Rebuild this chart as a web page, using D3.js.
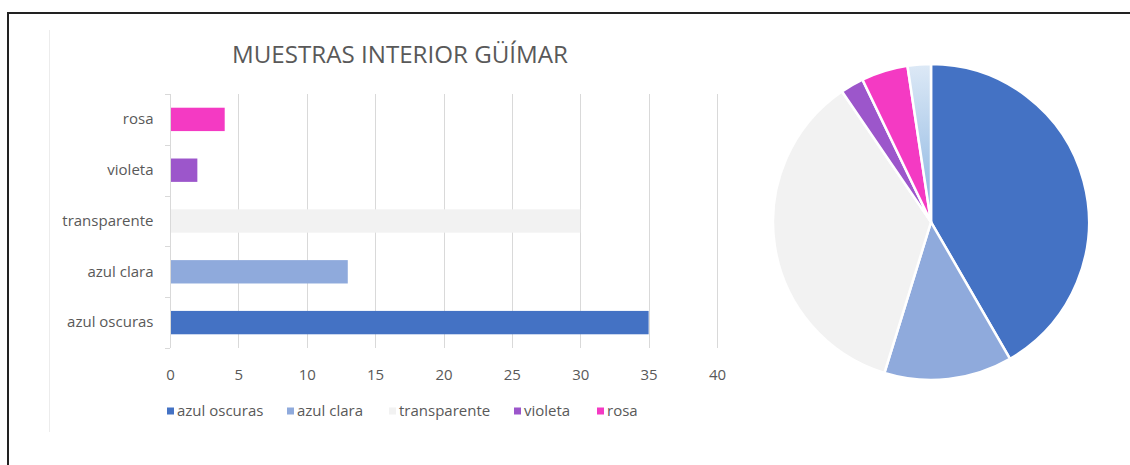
<!DOCTYPE html>
<html>
<head>
<meta charset="utf-8">
<script src="https://cdn.jsdelivr.net/npm/d3@7"></script>
<style>
  body { margin: 0; background: #fff; }
  svg { display: block; font-family: "Open Sans", sans-serif; }
</style>
</head>
<body>
<svg id="chart"></svg>
<script>
const TITLE = "MUESTRAS INTERIOR GÜÍMAR";

// bar chart (bottom to top order as in the legend)
const CATEGORIES = ["azul oscuras", "azul clara", "transparente", "violeta", "rosa"];
const BAR_VALUES = [35, 13, 30, 2, 4];
const COLORS = ["#4472C4", "#8FAADC", "#F2F2F2", "#9C56CB", "#F43AC3"];
const X_TICKS = [0, 5, 10, 15, 20, 25, 30, 35, 40];

// pie slices, clockwise from 12 o'clock
const PIE_LABELS = ["azul oscuras", "azul clara", "transparente", "violeta", "rosa", "otro"];
const PIE_VALUES = [35, 11, 30, 2, 4, 2];

const WIDTH = 1130;
const HEIGHT = 465;

const svg = d3.select('#chart')
              .attr('width', WIDTH)
              .attr('height', HEIGHT);

const defs = svg.append('defs');
const grad = defs.append('linearGradient')
                 .attr('id', 'lightGrad')
                 .attr('x1', 0).attr('y1', 0).attr('x2', 0).attr('y2', 1);
grad.append('stop').attr('offset', '0%').attr('stop-color', '#DDE9F6');
grad.append('stop').attr('offset', '100%').attr('stop-color', '#86B2E0');

// frame
svg.append('rect')
   .attr('x', 8).attr('y', 13)
   .attr('width', WIDTH + 20).attr('height', HEIGHT + 20)
   .attr('fill', 'none')
   .attr('stroke', '#222')
   .attr('stroke-width', 2);

svg.append('line')
   .attr('x1', 49.5).attr('x2', 49.5)
   .attr('y1', 30).attr('y2', 432)
   .attr('stroke', '#ececec');

svg.append('text')
   .attr('x', 400).attr('y', 63)
   .attr('text-anchor', 'middle')
   .attr('font-size', 24)
   .attr('textLength', 336)
   .attr('lengthAdjust', 'spacingAndGlyphs')
   .attr('fill', '#595959')
   .text(TITLE);

// ---- bar chart ----
const x = d3.scaleLinear().domain([0, 40]).range([170, 717]);
const y = d3.scaleBand()
            .domain(CATEGORIES)
            .range([348, 94])
            .paddingInner(0.54)
            .paddingOuter(0.27);

const g = svg.append('g');

g.selectAll('.grid')
 .data(X_TICKS.slice(1))
 .enter().append('line')
 .attr('x1', d => Math.round(x(d)) + 0.5)
 .attr('x2', d => Math.round(x(d)) + 0.5)
 .attr('y1', 94).attr('y2', 348)
 .attr('stroke', '#d9d9d9');

const yAxis = g.append('g')
               .attr('transform', 'translate(170.5,0)')
               .call(d3.axisLeft(y).tickSize(0).tickPadding(17));
yAxis.select('.domain').attr('stroke', '#d9d9d9').attr('d', 'M0,94V348');
yAxis.selectAll('text')
     .attr('font-size', 15)
     .attr('fill', '#595959')
     .style('font-family', '"Open Sans", sans-serif');

// band boundary ticks
const bounds = d3.range(CATEGORIES.length + 1).map(i => 348 - i * (254 / CATEGORIES.length));
g.selectAll('.btick')
 .data(bounds)
 .enter().append('line')
 .attr('x1', 165).attr('x2', 170)
 .attr('y1', d => Math.round(d) + 0.5)
 .attr('y2', d => Math.round(d) + 0.5)
 .attr('stroke', '#d9d9d9');

g.selectAll('.bar')
 .data(BAR_VALUES)
 .enter().append('rect')
 .attr('x', x(0) + 1)
 .attr('y', (d, i) => y(CATEGORIES[i]))
 .attr('width', d => x(d) - x(0) - 1)
 .attr('height', y.bandwidth())
 .attr('fill', (d, i) => COLORS[i]);

const xAxis = g.append('g')
               .attr('transform', 'translate(0,348)')
               .call(d3.axisBottom(x).tickValues(X_TICKS).tickSize(0).tickPadding(21));
xAxis.select('.domain').remove();
xAxis.selectAll('text')
     .attr('font-size', 15)
     .attr('fill', '#595959')
     .style('font-family', '"Open Sans", sans-serif');

// legend
const legendX = [167, 287, 389, 514, 597];
const legend = svg.append('g').attr('transform', 'translate(0,411)');
const item = legend.selectAll('g')
                   .data(CATEGORIES)
                   .enter().append('g')
                   .attr('transform', (d, i) => `translate(${legendX[i]},0)`);
item.append('rect')
    .attr('x', 0).attr('y', -3.5)
    .attr('width', 7).attr('height', 7)
    .attr('fill', (d, i) => COLORS[i]);
item.append('text')
    .attr('x', 10).attr('y', 5)
    .attr('font-size', 15)
    .attr('fill', '#595959')
    .text(d => d);

// ---- pie ----
const pie = d3.pie().sort(null).value(d => d);
const arc = d3.arc().innerRadius(0).outerRadius(158);
const pieColors = COLORS.concat(['url(#lightGrad)']);

svg.append('g')
   .attr('transform', 'translate(931,222)')
   .selectAll('path')
   .data(pie(PIE_VALUES))
   .enter().append('path')
   .attr('d', arc)
   .attr('fill', (d, i) => pieColors[i])
   .attr('stroke', '#fff')
   .attr('stroke-width', 2.5)
   .append('title').text((d, i) => PIE_LABELS[i]);
</script>
</body>
</html>
